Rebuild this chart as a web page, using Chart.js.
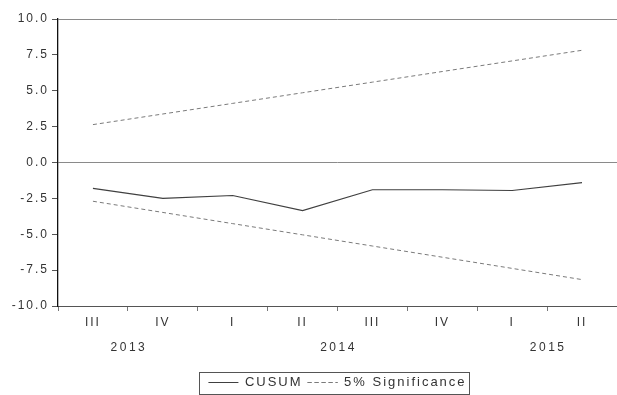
<!DOCTYPE html>
<html>
<head>
<meta charset="utf-8">
<script src="https://cdn.jsdelivr.net/npm/chart.js@4.4.1/dist/chart.umd.min.js"></script>
<style>
  html, body { margin: 0; padding: 0; background: #fff; }
  #wrap { width: 617px; height: 395px; position: relative; }
</style>
</head>
<body>
<div id="wrap"><canvas id="c" width="617" height="395"></canvas></div>
<script>
// Quarters along the horizontal axis, with the year each one belongs to
const quarters = ['III', 'IV', 'I', 'II', 'III', 'IV', 'I', 'II'];
const years = [
  { label: '2013', between: [0, 1] },
  { label: '2014', between: [3, 4] },
  { label: '2015', between: [6, 7] }
];

// CUSUM statistic and its 5% significance bounds
const cusum = [-1.8, -2.5, -2.3, -3.35, -1.9, -1.9, -1.95, -1.4];
const upperBound = [2.64, 3.38, 4.12, 4.86, 5.6, 6.34, 7.08, 7.82];
const lowerBound = [-2.7, -3.48, -4.26, -5.04, -5.82, -6.6, -7.38, -8.16];

const yTicks = [-10, -7.5, -5, -2.5, 0, 2.5, 5, 7.5, 10];

const FONT = 'Liberation Sans, Arial, sans-serif';
const SPACING = '2px';

// Wide letter spacing for every label drawn on the canvas
const spacing = {
  id: 'spacing',
  afterInit(chart) { chart.ctx.letterSpacing = SPACING; },
  beforeUpdate(chart) { chart.ctx.letterSpacing = SPACING; },
  beforeLayout(chart) { chart.ctx.letterSpacing = SPACING; },
  beforeDraw(chart) { chart.ctx.letterSpacing = SPACING; }
};

// Year labels under the quarter labels, plus a frame round the legend
const extras = {
  id: 'extras',
  afterDraw(chart) {
    const ctx = chart.ctx;
    const xs = chart.scales.x;
    ctx.save();
    ctx.letterSpacing = '2.5px';
    ctx.fillStyle = '#333';
    ctx.font = '12px ' + FONT;
    ctx.textAlign = 'center';
    ctx.textBaseline = 'middle';
    years.forEach(y => {
      const px = (xs.getPixelForValue(y.between[0]) + xs.getPixelForValue(y.between[1])) / 2;
      ctx.fillText(y.label, px + 1, 348);
    });
    const boxes = chart.legend.legendHitBoxes;
    if (boxes && boxes.length) {
      let l = Infinity, r = -Infinity, t = Infinity, b = -Infinity;
      boxes.forEach(h => {
        l = Math.min(l, h.left); r = Math.max(r, h.left + h.width);
        t = Math.min(t, h.top); b = Math.max(b, h.top + h.height);
      });
      const cy = (t + b) / 2;
      ctx.strokeStyle = '#555';
      ctx.lineWidth = 1;
      ctx.strokeRect(Math.round(l - 9) + 0.5, Math.round(cy - 11) + 0.5, Math.round(r - l + 12), 22);
    }
    ctx.restore();
  }
};

new Chart(document.getElementById('c'), {
  type: 'line',
  data: {
    labels: quarters,
    datasets: [
      {
        label: 'CUSUM',
        data: cusum,
        borderColor: '#404040',
        backgroundColor: 'rgba(0,0,0,0)',
        borderWidth: 1.2,
        pointRadius: 0,
        tension: 0,
        fill: false
      },
      {
        label: '5% Significance',
        data: upperBound,
        borderColor: '#7a7a7a',
        backgroundColor: 'rgba(0,0,0,0)',
        borderWidth: 1,
        borderDash: [4, 3],
        pointRadius: 0,
        tension: 0,
        fill: false
      },
      {
        label: 'lower',
        data: lowerBound,
        borderColor: '#7a7a7a',
        backgroundColor: 'rgba(0,0,0,0)',
        borderWidth: 1,
        borderDash: [4, 3],
        pointRadius: 0,
        tension: 0,
        fill: false
      }
    ]
  },
  options: {
    responsive: false,
    animation: false,
    layout: { padding: { top: 19, right: 0, left: 0, bottom: -4 } },
    plugins: {
      tooltip: { enabled: false },
      legend: {
        position: 'bottom',
        fullSize: false,
        labels: {
          filter: item => item.datasetIndex < 2,
          boxWidth: 30,
          boxHeight: 0,
          color: '#333',
          font: { family: FONT, size: 13 },
          padding: 5
        }
      }
    },
    scales: {
      x: {
        type: 'category',
        offset: true,
        grid: {
          offset: true,
          drawOnChartArea: false,
          tickLength: 5,
          tickColor: '#777'
        },
        border: { display: true, color: '#555', width: 1 },
        ticks: {
          color: '#333',
          font: { family: FONT, size: 12 },
          padding: 4,
          maxRotation: 0,
          autoSkip: false
        },
        afterFit(scale) { scale.height = 65; }
      },
      y: {
        min: -10,
        max: 10,
        afterBuildTicks(scale) { scale.ticks = yTicks.map(v => ({ value: v })); },
        grid: {
          color: ctx => (ctx.tick && (ctx.tick.value === 0 || ctx.tick.value === 10)) ? '#8a8a8a' : 'rgba(0,0,0,0)',
          tickColor: '#555',
          tickLength: 6,
          lineWidth: 1
        },
        border: { display: true, color: '#111', width: 1.3 },
        ticks: {
          color: '#333',
          font: { family: FONT, size: 12 },
          padding: 3,
          callback: v => Number(v).toFixed(1)
        },
        afterFit(scale) { scale.width = 58; }
      }
    }
  },
  plugins: [spacing, extras]
});
</script>
</body>
</html>
